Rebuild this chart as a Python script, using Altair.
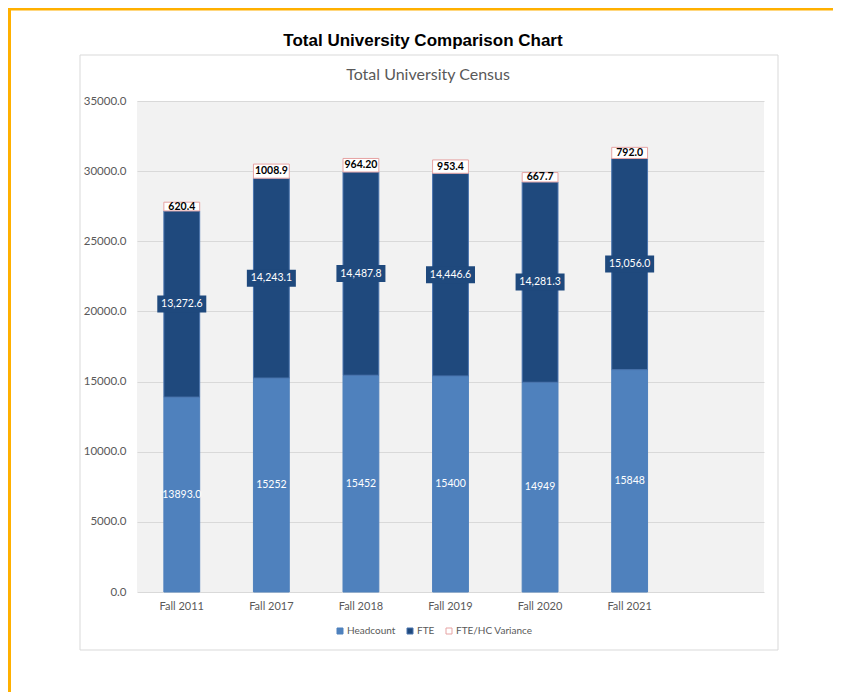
import altair as alt
import pandas as pd

# ---- data ----
categories = ["Fall 2011", "Fall 2017", "Fall 2018", "Fall 2019", "Fall 2020", "Fall 2021"]
headcount = [13893, 15252, 15452, 15400, 14949, 15848]
fte = [13272.6, 14243.1, 14487.8, 14446.6, 14281.3, 15056.0]
variance = [620.4, 1008.9, 964.2, 953.4, 667.7, 792.0]
headcount_labels = ["13893.0", "15252", "15452", "15400", "14949", "15848"]
fte_labels = ["13,272.6", "14,243.1", "14,487.8", "14,446.6", "14,281.3", "15,056.0"]
variance_labels = ["620.4", "1008.9", "964.20", "953.4", "667.7", "792.0"]
series = ["Headcount", "FTE", "FTE/HC Variance"]
y_ticks = [0, 5000, 10000, 15000, 20000, 25000, 30000, 35000]
x_domain = categories + [" "]  # empty seventh slot as in the reference

rows = []
for i, c in enumerate(categories):
    segs = [(series[0], headcount[i], headcount_labels[i]),
            (series[1], fte[i], fte_labels[i]),
            (series[2], variance[i], variance_labels[i])]
    base = 0.0
    for k, (s, v, lab) in enumerate(segs):
        rows.append({"cat": c, "series": s, "lo": base, "hi": base + v,
                     "mid": base + v / 2, "label": lab, "order": k})
        base += v
df = pd.DataFrame(rows)

W, H = 627, 491
one = pd.DataFrame({"d": [0]})

x_enc = alt.X("cat:N", scale=alt.Scale(domain=x_domain, paddingInner=0, paddingOuter=0),
              axis=alt.Axis(title=None, labelAngle=0, ticks=False, domain=False,
                            labelFont="Lato", labelFontSize=11, labelColor="#595959",
                            labelPadding=8))
y_scale = alt.Scale(domain=[0, 35000], nice=False)
y_enc = alt.Y("lo:Q", scale=y_scale,
              axis=alt.Axis(title=None, values=y_ticks, format=".1f", ticks=False, domain=False,
                            grid=True, gridColor="#D9D9D9", gridWidth=1,
                            labelFont="Lato", labelFontSize=11.5, labelColor="#595959",
                            labelPadding=11))

leg = alt.Legend(orient="none", legendX=198, legendY=525, direction="horizontal", title=None,
                 symbolType="square", symbolSize=36, symbolStrokeWidth=1,
                 labelFont="Lato", labelFontSize=10, labelColor="#595959",
                 columnPadding=9, labelOffset=2, padding=0)

bars = alt.Chart(df).mark_bar(width={"band": 0.4}, strokeWidth=1).encode(
    x=x_enc,
    y=y_enc,
    y2="hi:Q",
    fill=alt.Fill("series:N", scale=alt.Scale(domain=series, range=["#4F81BD", "#1F497D", "#FFFFFF"]),
                  legend=leg),
    stroke=alt.Stroke("series:N", scale=alt.Scale(domain=series, range=["#4F81BD", "#4A74AE", "#E6A3A3"]),
                      legend=leg),
    order=alt.Order("order:Q"),
)

fte_boxes = alt.Chart(df).transform_filter(alt.datum.series == "FTE").mark_tick(
    size=49, thickness=17, color="#1F497D", opacity=1
).encode(x=alt.X("cat:N"), y=alt.Y("mid:Q", scale=y_scale))

hc_text = alt.Chart(df).transform_filter(alt.datum.series == "Headcount").mark_text(
    font="Lato", fontSize=10.5, color="white", baseline="middle", align="center"
).encode(x=alt.X("cat:N"), y=alt.Y("mid:Q", scale=y_scale), text="label:N")

fte_text = alt.Chart(df).transform_filter(alt.datum.series == "FTE").mark_text(
    font="Lato", fontSize=10.5, color="white", baseline="middle", align="center"
).encode(x=alt.X("cat:N"), y=alt.Y("mid:Q", scale=y_scale), text="label:N")

var_text = alt.Chart(df).transform_filter(alt.datum.series == "FTE/HC Variance").mark_text(
    font="Lato", fontSize=10.5, fontWeight="bold", color="black", baseline="middle", align="center"
).encode(x=alt.X("cat:N"), y=alt.Y("mid:Q", scale=y_scale), text="label:N")

# ---- decorations (frame, outer chart box, titles) ----
box = alt.Chart(one).mark_rect(fill=None, stroke="#D9D9D9", strokeWidth=1).encode(
    x=alt.value(-57), x2=alt.value(641), y=alt.value(-46), y2=alt.value(549))
orange_left = alt.Chart(one).mark_rule(color="#FFB000", strokeWidth=3).encode(
    x=alt.value(-127.5), y=alt.value(-93), y2=alt.value(591))
orange_top = alt.Chart(one).mark_rule(color="#FFB000", strokeWidth=3).encode(
    x=alt.value(-129), x2=alt.value(700), y=alt.value(-92))
title = alt.Chart(one).mark_text(font="Liberation Sans", fontSize=17, fontWeight="bold",
                                 color="black", align="center", baseline="middle").encode(
    x=alt.value(286), y=alt.value(-60), text=alt.value("Total University Comparison Chart"))
subtitle = alt.Chart(one).mark_text(font="Lato", fontSize=16, color="#595959",
                                    align="center", baseline="middle").encode(
    x=alt.value(291), y=alt.value(-26), text=alt.value("Total University Census"))

chart = alt.layer(
    bars, fte_boxes, hc_text, fte_text, var_text, box, orange_left, orange_top, title, subtitle
).properties(
    width=W, height=H,
    autosize=alt.AutoSizeParams(type="none"),
    padding={"left": 129, "top": 93, "right": 69, "bottom": 100},
    background="white",
).configure_view(fill="#F2F2F2", stroke=None)

chart.save("out.html", embed_options={"renderer": "svg", "actions": False})
